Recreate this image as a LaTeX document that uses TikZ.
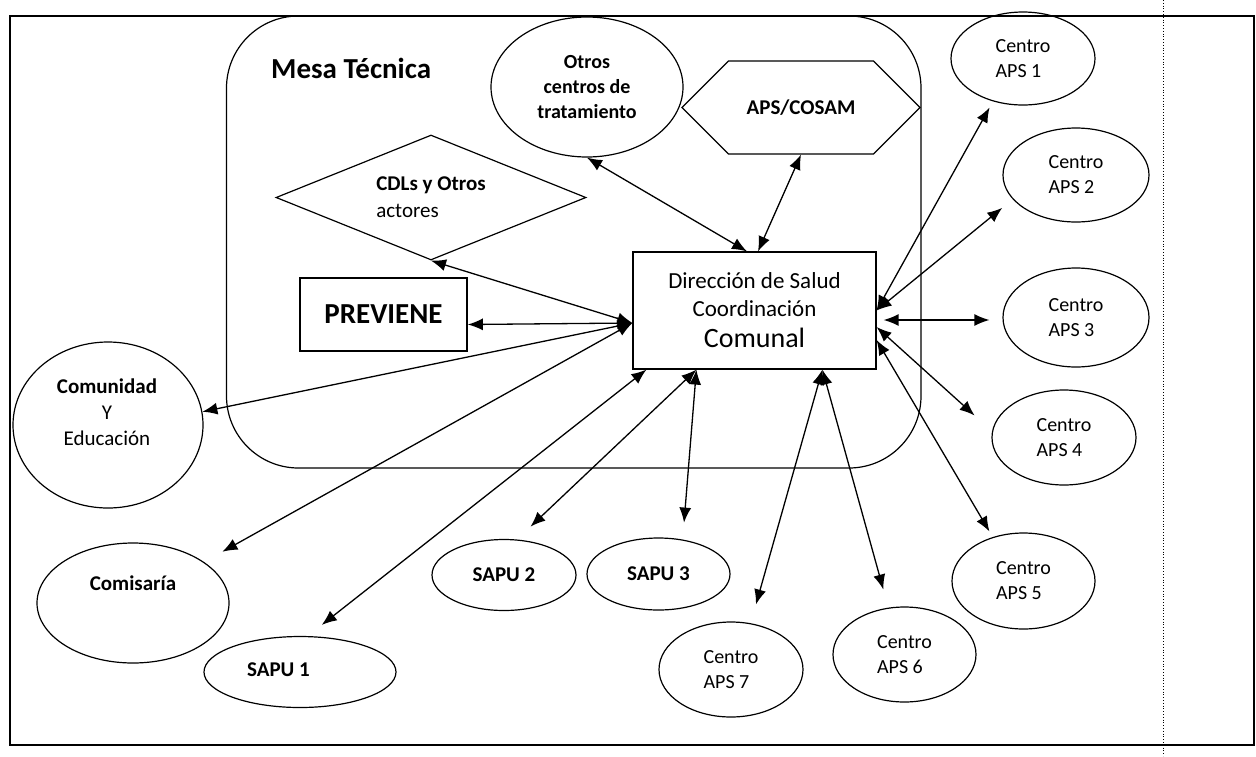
\documentclass[tikz,border=0pt]{standalone}
\usepackage{fontspec}
\setmainfont{Carlito}
\usetikzlibrary{arrows.meta,shapes.geometric,shapes.symbols}

\begin{document}
\begin{tikzpicture}[x=1pt, y=-1pt,
	Bubble/.style={ellipse, draw, line width=1.2pt, inner sep=0pt, align=left, font=\fontsize{20}{25}\selectfont},
	Box/.style={rectangle, draw, line width=1.2pt, inner sep=0pt, align=center},
	Label/.style={inner sep=0pt, align=center, font=\fontsize{21}{26}\selectfont},
	Link/.style={<->, >={Latex[length=15pt,width=12pt]}, line width=1.3pt}]
	\useasboundingbox (0,0) rectangle (1256,756);
	\draw[line width=1.2pt] (10,16) rectangle (1254,745);
	\draw[dotted, line width=0.8pt] (1163,0) -- (1163,756);
	\draw[line width=1.2pt, rounded corners=72pt] (226.5,16) rectangle (921,468);
	\node[anchor=base west, inner sep=0pt, font=\fontsize{29}{31}\selectfont\bfseries] (mesa) at (271,78) {Mesa Técnica};
	\node[Box, minimum width=243pt, minimum height=117pt, font=\fontsize{23}{28}\selectfont] (dir) at (754.5,310.5) {Dirección de Salud\\ Coordinación\\[3pt] {\fontsize{28}{30}\selectfont Comunal}};
	\node[Box, line width=1.6pt, minimum width=167pt, minimum height=73pt, font=\fontsize{29}{32}\selectfont\bfseries] (prev) at (383.5,314.5) {PREVIENE};
	\node[diamond, draw, line width=1.2pt, aspect=2.5, minimum width=310pt, minimum height=125pt, inner sep=0pt, align=left, font=\fontsize{21}{27}\selectfont] (cdl) at (431,197.5) {\textbf{CDLs y Otros}\\ actores};
	\node[signal, signal to=west and east, draw, line width=1.2pt, minimum width=238pt, minimum height=93pt, inner sep=0pt, font=\fontsize{21}{25}\selectfont\bfseries] (cosam) at (801,107.5) {APS/COSAM};
	\node[Bubble, minimum width=192pt, minimum height=140pt, align=center, font=\fontsize{20}{25}\selectfont\bfseries] (otros) at (587,87) {Otros\\ centros de\\ tratamiento};
	\node[Bubble, minimum width=144pt, minimum height=93pt] (aps1) at (1023,58.5) {Centro\\ APS 1};
	\node[Bubble, minimum width=146pt, minimum height=94pt] (aps2) at (1076,175) {Centro\\ APS 2};
	\node[Bubble, minimum width=146pt, minimum height=99pt] (aps3) at (1076,317.5) {Centro\\ APS 3};
	\node[Bubble, minimum width=144pt, minimum height=95pt] (aps4) at (1064,437.5) {Centro\\ APS 4};
	\node[Bubble, minimum width=143pt, minimum height=96pt] (aps5) at (1023.5,581) {Centro\\ APS 5};
	\node[Bubble, minimum width=143pt, minimum height=95pt] (aps6) at (904.5,654.5) {Centro\\ APS 6};
	\node[Bubble, minimum width=144pt, minimum height=95pt] (aps7) at (731,669.5) {Centro\\ APS 7};
	\node[Bubble, minimum width=143pt, minimum height=72pt, font=\fontsize{21}{25}\selectfont\bfseries] (sapu3) at (658.5,574) {SAPU 3};
	\node[Bubble, minimum width=144pt, minimum height=71pt, font=\fontsize{21}{25}\selectfont\bfseries] (sapu2) at (504,575) {SAPU 2};
	\node[Bubble, minimum width=192pt, minimum height=71pt] (sapu1) at (300,672) {};
	\node[Label, font=\fontsize{21}{25}\selectfont\bfseries] (sapu1txt) at (278.5,670) {SAPU 1};
	\node[Bubble, minimum width=190pt, minimum height=166pt] (com) at (108,425) {};
	\node[Label] (comtxt) at (107,412) {\textbf{Comunidad}\\ Y\\ Educación};
	\node[Bubble, minimum width=192pt, minimum height=120pt] (comis) at (133,603) {};
	\node[Label, font=\fontsize{21}{25}\selectfont\bfseries] (comistxt) at (133,583) {Comisaría};
	\coordinate (hubL) at ([yshift=-12.5pt]dir.west);
	\coordinate (hubT1) at ([xshift=-7.5pt]dir.north);
	\coordinate (hubT2) at ([xshift=3.5pt]dir.north);
	\coordinate (hubB1) at ([xshift=14pt]dir.south west);
	\coordinate (hubB2) at ([xshift=64pt]dir.south west);
	\coordinate (hubB3) at ([xshift=190pt]dir.south west);
	\coordinate (hubR1) at (dir.east);
	\coordinate (hubR3) at ([yshift=-9.5pt]dir.east);
	\coordinate (hubR4) at ([yshift=-16.5pt]dir.east);
	\coordinate (hubR5) at ([yshift=-29.5pt]dir.east);
	\draw[Link] (otros.south) to (hubT1);
	\draw[Link] (cosam.south) to (hubT2);
	\draw[Link] (cdl.south) to (hubL);
	\draw[Link] ([yshift=-10pt]prev.east) to (hubL);
	\draw[Link] (com.8) to (hubL);
	\draw[Link, shorten <=21pt] (comis.30) to (hubL);
	\draw[Link, shorten <=18pt] (sapu1.78) to (hubB1);
	\draw[Link, shorten <=18.7pt] (sapu2.70) to (hubB2);
	\draw[Link, shorten <=17pt] (sapu3.55) to (hubB2);
	\draw[Link, shorten <=19.5pt] (aps7.67) to (hubB3);
	\draw[Link, shorten <=18.8pt] (aps6.109) to (hubB3);
	\draw[Link, shorten <=6.5pt] (aps5.125) to (hubR5);
	\draw[Link, shorten <=23.5pt] (aps4.175) to (hubR4);
	\draw[Link, shorten <=13pt, shorten >=7pt] (hubR3 -| aps3.west) to (hubR3);
	\draw[Link, shorten <=13.5pt] (aps2.201) to (hubR1);
	\draw[Link, shorten <=7pt] (aps1.235) to (hubR1);
\end{tikzpicture}
\end{document}
